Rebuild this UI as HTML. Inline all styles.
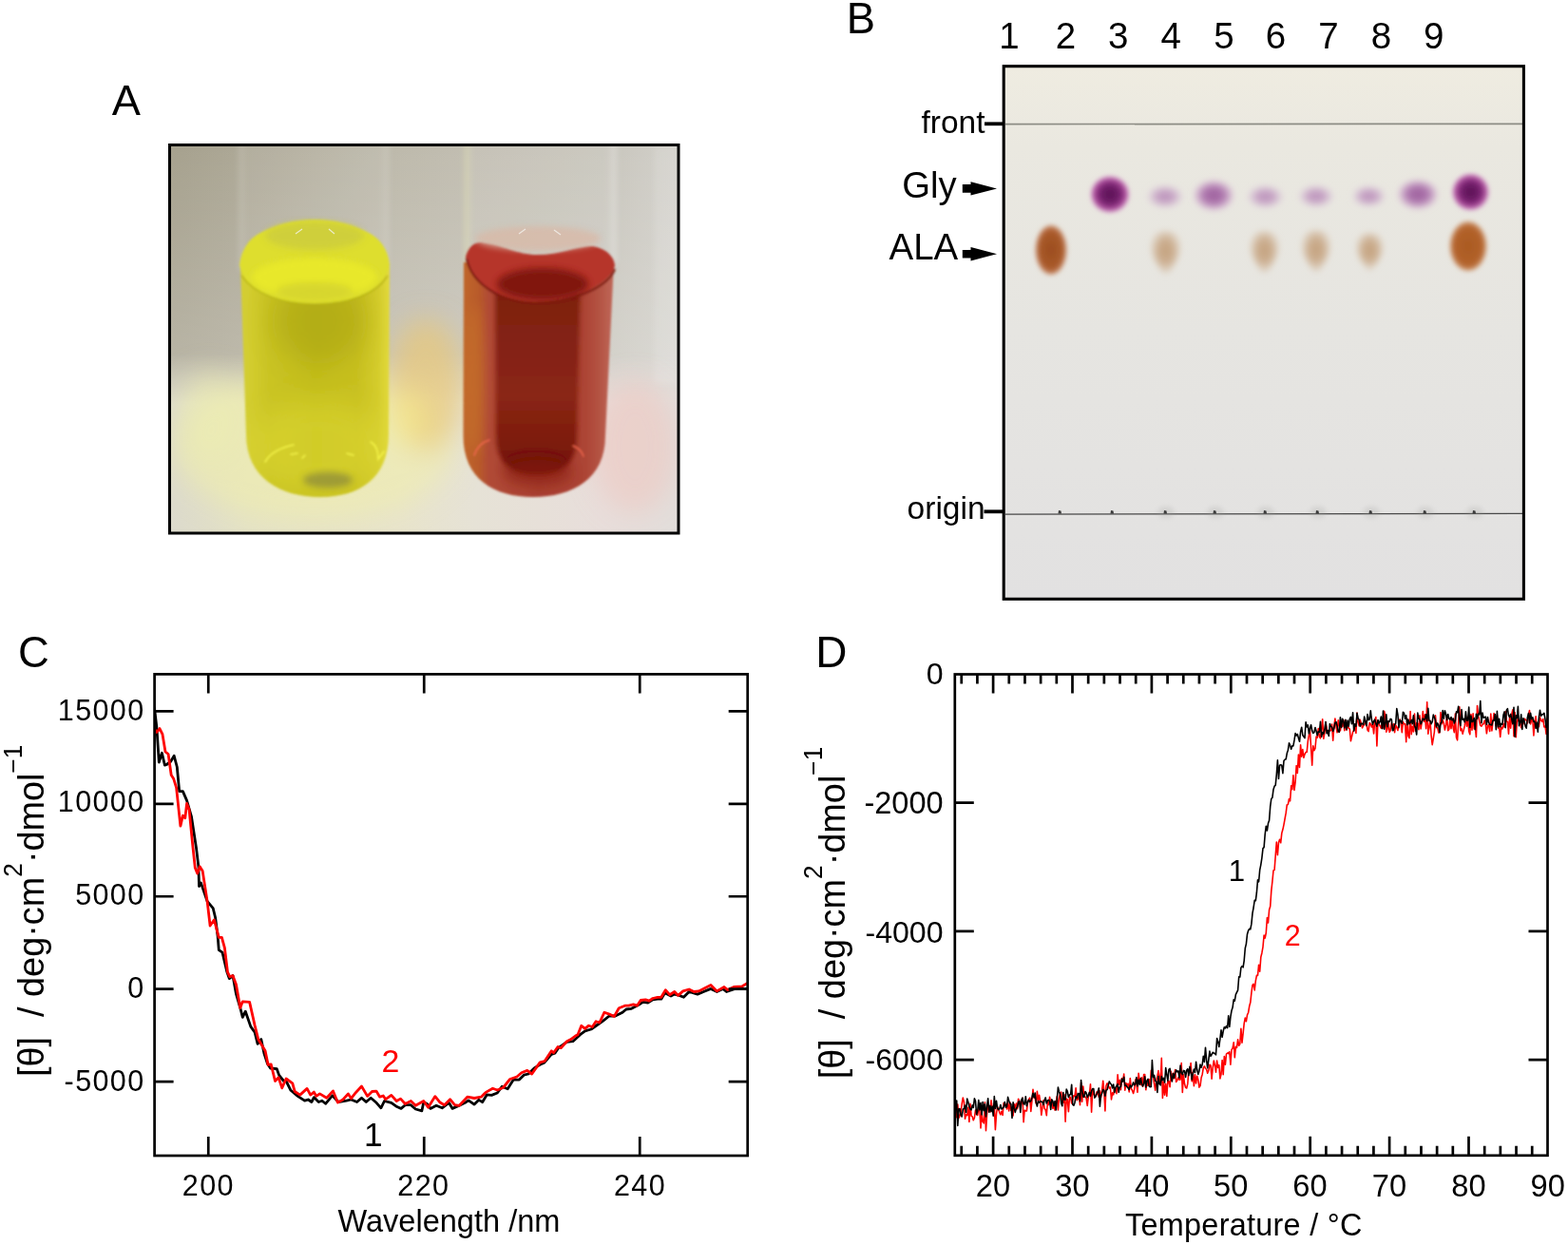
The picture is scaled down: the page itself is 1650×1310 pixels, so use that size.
<!DOCTYPE html>
<html><head><meta charset="utf-8"><title>Figure</title>
<style>html,body{margin:0;padding:0;background:#fff;} svg{display:block;} text{font-family:'Liberation Sans', Arial, Helvetica, sans-serif;}</style>
</head><body>
<svg width="1650" height="1310" viewBox="0 0 1650 1310">
<defs>
<clipPath id="clipA"><rect x="180" y="154" width="533" height="407"/></clipPath>
<linearGradient id="wallH" x1="180" y1="0" x2="713" y2="0" gradientUnits="userSpaceOnUse">
  <stop offset="0" stop-color="#a6a18e"/>
  <stop offset="0.12" stop-color="#aca795"/>
  <stop offset="0.45" stop-color="#bebaac"/>
  <stop offset="0.6" stop-color="#c2beb2"/>
  <stop offset="0.85" stop-color="#c8c5bc"/>
  <stop offset="1" stop-color="#d2d0ca"/>
</linearGradient>
<linearGradient id="wallV" x1="0" y1="154" x2="0" y2="400" gradientUnits="userSpaceOnUse">
  <stop offset="0" stop-color="#ffffff" stop-opacity="0"/>
  <stop offset="1" stop-color="#ffffff" stop-opacity="0.22"/>
</linearGradient>
<linearGradient id="tableH" x1="180" y1="0" x2="713" y2="0" gradientUnits="userSpaceOnUse">
  <stop offset="0" stop-color="#dcdacc"/>
  <stop offset="0.15" stop-color="#e4e2c6"/>
  <stop offset="0.45" stop-color="#e8e4cc"/>
  <stop offset="0.6" stop-color="#e6e2d6"/>
  <stop offset="0.85" stop-color="#e8dedb"/>
  <stop offset="1" stop-color="#e2dedb"/>
</linearGradient>
<linearGradient id="tableFade" x1="0" y1="372" x2="0" y2="425" gradientUnits="userSpaceOnUse">
  <stop offset="0" stop-color="#fff" stop-opacity="0"/>
  <stop offset="1" stop-color="#fff" stop-opacity="1"/>
</linearGradient>
<mask id="tableMask"><rect x="180" y="154" width="533" height="407" fill="url(#tableFade)"/></mask>
<linearGradient id="yBody" x1="252" y1="0" x2="410" y2="0" gradientUnits="userSpaceOnUse">
  <stop offset="0" stop-color="#d4ce36"/>
  <stop offset="0.08" stop-color="#d2cc2e"/>
  <stop offset="0.2" stop-color="#cac424"/>
  <stop offset="0.5" stop-color="#c4be1c"/>
  <stop offset="0.78" stop-color="#c8c020"/>
  <stop offset="0.92" stop-color="#d4cc2c"/>
  <stop offset="1" stop-color="#e2da3c"/>
</linearGradient>
<linearGradient id="rInner" x1="0" y1="290" x2="0" y2="500" gradientUnits="userSpaceOnUse">
  <stop offset="0" stop-color="#7c1e10"/>
  <stop offset="0.6" stop-color="#8a2614"/>
  <stop offset="1" stop-color="#741408"/>
</linearGradient>
<linearGradient id="rBody" x1="488" y1="0" x2="647" y2="0" gradientUnits="userSpaceOnUse">
  <stop offset="0" stop-color="#c0662c"/>
  <stop offset="0.1" stop-color="#b85a2a"/>
  <stop offset="0.17" stop-color="#b04a36"/>
  <stop offset="0.5" stop-color="#a84032"/>
  <stop offset="0.8" stop-color="#ac4434"/>
  <stop offset="0.9" stop-color="#b45444"/>
  <stop offset="1" stop-color="#c06a5c"/>
</linearGradient>
<filter id="blur1" x="-10%" y="-10%" width="120%" height="120%"><feGaussianBlur stdDeviation="1.1"/></filter>
<filter id="blur2b" x="-20%" y="-20%" width="140%" height="140%"><feGaussianBlur stdDeviation="2.2"/></filter>
<filter id="blur3" x="-30%" y="-30%" width="160%" height="160%"><feGaussianBlur stdDeviation="3"/></filter>
<filter id="blur6" x="-40%" y="-40%" width="180%" height="180%"><feGaussianBlur stdDeviation="6"/></filter>
<filter id="blur14" x="-60%" y="-60%" width="220%" height="220%"><feGaussianBlur stdDeviation="14"/></filter>
<clipPath id="clipYT"><path d="M253,279 L259,457 C259,503.2 295.75,523 337,523 C378.25,523 409,503.2 409,457 L410,279 Z"/></clipPath><clipPath id="clipRT"><path d="M488,276 L487.5,459 C487.5,503.8 519.8875,523 561,523 C602.1125,523 637,503.8 637,459 L646,276 Z"/></clipPath>
<linearGradient id="tlcBg" x1="0" y1="70" x2="0" y2="630" gradientUnits="userSpaceOnUse">
  <stop offset="0" stop-color="#efece1"/>
  <stop offset="0.15" stop-color="#eae8e0"/>
  <stop offset="0.5" stop-color="#e6e5e1"/>
  <stop offset="1" stop-color="#e2e1e1"/>
</linearGradient>
<radialGradient id="spotGlyD"><stop offset="0" stop-color="#5a1454"/><stop offset="0.5" stop-color="#741f6c"/><stop offset="0.8" stop-color="#a84898"/><stop offset="0.92" stop-color="#cc78bc"/><stop offset="1" stop-color="#dca0d0" stop-opacity="0"/></radialGradient>
<radialGradient id="spotGlyM"><stop offset="0" stop-color="#9c5e9c"/><stop offset="0.5" stop-color="#ac74ac" stop-opacity="0.95"/><stop offset="0.82" stop-color="#c89cc6" stop-opacity="0.6"/><stop offset="1" stop-color="#d8b0d4" stop-opacity="0"/></radialGradient>
<radialGradient id="spotGlyF"><stop offset="0" stop-color="#bc94bc"/><stop offset="0.45" stop-color="#c6a2c4" stop-opacity="0.95"/><stop offset="0.8" stop-color="#d6c0d4" stop-opacity="0.55"/><stop offset="1" stop-color="#e0d0dc" stop-opacity="0"/></radialGradient>
<radialGradient id="spotAlaD"><stop offset="0" stop-color="#9c4c1e"/><stop offset="0.7" stop-color="#a85a2a"/><stop offset="0.9" stop-color="#c07850"/><stop offset="1" stop-color="#d0a080" stop-opacity="0"/></radialGradient>
<radialGradient id="spotAlaD2"><stop offset="0" stop-color="#aa5a22"/><stop offset="0.7" stop-color="#b2622a"/><stop offset="0.9" stop-color="#c48050"/><stop offset="1" stop-color="#d8a880" stop-opacity="0"/></radialGradient>
<radialGradient id="spotAlaF" cx="0.5" cy="0.45" r="0.58"><stop offset="0" stop-color="#c4a27e"/><stop offset="0.45" stop-color="#cbad8e" stop-opacity="0.95"/><stop offset="0.8" stop-color="#d8c4ae" stop-opacity="0.55"/><stop offset="1" stop-color="#e2d6c6" stop-opacity="0"/></radialGradient>
<filter id="sblur" x="-50%" y="-50%" width="200%" height="200%"><feGaussianBlur stdDeviation="2.4"/></filter><filter id="sblur2" x="-60%" y="-60%" width="220%" height="220%"><feGaussianBlur stdDeviation="3.2"/></filter>
<clipPath id="clipC"><rect x="162" y="709" width="625" height="507"/></clipPath><clipPath id="clipD"><rect x="1004" y="709" width="625" height="507"/></clipPath></defs>
<rect width="1650" height="1310" fill="#fff"/>
<text x="117.81" y="120.70" font-size="45.21" fill="#000" >A</text>
<text x="890.78" y="34.90" font-size="45.38" fill="#000" >B</text>
<text x="18.99" y="702.00" font-size="45.39" fill="#000" >C</text>
<text x="858.23" y="701.80" font-size="45.94" fill="#000" >D</text>
<g clip-path="url(#clipA)">
<rect x="180" y="154" width="533" height="407" fill="url(#wallH)"/>
<rect x="180" y="154" width="533" height="407" fill="url(#wallV)"/>
<rect x="180" y="154" width="533" height="407" fill="url(#tableH)" mask="url(#tableMask)"/>
<g filter="url(#blur14)">
<ellipse cx="330" cy="470" rx="150" ry="80" fill="#f2f0a8" opacity="0.5"/>
<ellipse cx="448" cy="405" rx="40" ry="70" fill="#e8c878" opacity="0.7"/>
<ellipse cx="428" cy="440" rx="18" ry="28" fill="#f6ee90" opacity="0.6"/>
<ellipse cx="668" cy="470" rx="45" ry="70" fill="#f0c4bc" opacity="0.5"/>
<ellipse cx="220" cy="440" rx="35" ry="50" fill="#eeeeb0" opacity="0.45"/>
</g>
<rect x="688" y="154" width="26" height="250" fill="#ffffff" opacity="0.12" filter="url(#blur3)"/>
<g filter="url(#blur3)">
<rect x="252" y="150" width="158" height="135" fill="#ffffff" opacity="0.07"/>
<rect x="490" y="150" width="158" height="128" fill="#ffffff" opacity="0.07"/>
<rect x="251" y="150" width="5" height="135" fill="#ffffff" opacity="0.12"/>
<rect x="404" y="150" width="5" height="130" fill="#ffffff" opacity="0.10"/>
<rect x="489" y="150" width="5" height="128" fill="#ffffff" opacity="0.14"/>
<rect x="643" y="150" width="6" height="128" fill="#ffffff" opacity="0.22"/>
<rect x="489" y="150" width="5" height="128" fill="#e8e890" opacity="0.25"/>
</g>
<g filter="url(#blur1)"><path d="M253,279 L259,457 C259,503.2 295.75,523 337,523 C378.25,523 409,503.2 409,457 L410,279 Z" fill="url(#yBody)"/>
<g clip-path="url(#clipYT)">
<ellipse cx="336" cy="338" rx="50" ry="45" fill="#9c960c" opacity="0.40" filter="url(#blur14)"/>
<ellipse cx="335" cy="470" rx="70" ry="50" fill="#e6e23c" opacity="0.40" filter="url(#blur14)"/>
<ellipse cx="345" cy="505" rx="26" ry="8.5" fill="#8e8c3a" opacity="0.75" filter="url(#blur3)"/>
<g fill="none" stroke="#f6f64a" stroke-width="1.6" stroke-linecap="round" opacity="0.9"><path d="M309,468 C296,471 286,476 281,483 L279,486"/><path d="M390,465 C396,468 398,476 398,483 L404,475"/><path d="M306,478 l7,-1 M365,477 l7,2 M318,482 l3,-3"/></g>
</g>
<path d="M252,279 C254,262 262,252 272,246 C290,236 310,231 331,231 C352,231 372,236 390,246 C400,252 408,262 410,278 C404,306 372,320 331,320 C290,320 258,306 252,279 Z" fill="#dede2e"/>
<ellipse cx="331" cy="248" rx="52" ry="15" fill="#cdcd3c" opacity="0.85" filter="url(#blur3)"/>
<ellipse cx="331" cy="292" rx="66" ry="20" fill="#ecec2a" opacity="0.75" filter="url(#blur3)"/>
<ellipse cx="331" cy="306" rx="40" ry="9" fill="#c8c630" opacity="0.5" filter="url(#blur3)"/>
<path d="M254,290 C268,310 298,320 331,320 C366,320 396,310 408,290" fill="none" stroke="#b6b416" stroke-width="2" opacity="0.7"/>
</g>
<g filter="url(#blur1)"><path d="M488,276 L487.5,459 C487.5,503.8 519.8875,523 561,523 C602.1125,523 637,503.8 637,459 L646,276 Z" fill="url(#rBody)"/>
<g clip-path="url(#clipRT)">
<path d="M521,290 L522,462 C523,488 540,499 564,499 C590,499 606,488 607,462 L611,290 Z" fill="url(#rInner)" filter="url(#blur2b)"/>
<ellipse cx="564" cy="488" rx="34" ry="12" fill="#6a1006" opacity="0.45" filter="url(#blur6)"/>
<ellipse cx="566" cy="498" rx="36" ry="14" fill="#8a1a0e" opacity="0.5" filter="url(#blur6)"/>
<ellipse cx="500" cy="400" rx="10" ry="80" fill="#d08030" opacity="0.35" filter="url(#blur6)"/>
<g fill="none" stroke="#f46a50" stroke-width="1.5" stroke-linecap="round" opacity="0.9"><path d="M515,463 C508,465 502,470 499,479"/><path d="M603,469 C608,471 612,474 614,480"/></g>
</g>
<path d="M490,270 C493,260 499,255 506,255 C530,258 545,268 565,268 C590,268 610,258 624,259 C640,262 647,272 647,280 C640,300 600,318 562,318 C525,318 494,295 490,270 Z" fill="#b6342a"/>
<ellipse cx="571" cy="299" rx="48" ry="17" fill="#7c1410" opacity="0.9" filter="url(#blur3)"/>
<path d="M491,272 C496,298 526,318 563,319 C604,318 640,302 647,283" fill="none" stroke="#7e1c12" stroke-width="2.4" opacity="0.9"/>
</g>
<ellipse cx="566" cy="251" rx="66" ry="13" fill="#d9b8a6" opacity="0.75" filter="url(#blur3)"/>
<g stroke="#f4f4f0" stroke-width="1.3" fill="none" opacity="0.75">
<path d="M311,246 l7,-5 M346,241 l6,5"/><path d="M546,246 l7,-5 M583,242 l7,5"/>
</g>
</g>
<rect x="178.5" y="152.5" width="535.5" height="408.5" fill="none" stroke="#000" stroke-width="3"/>
<rect x="1056.2" y="69.7" width="547.2" height="560.6" fill="url(#tlcBg)"/>
<line x1="1058" y1="130.6" x2="1602" y2="130.3" stroke="#8c8c84" stroke-width="1.7"/>
<line x1="1058" y1="541" x2="1602" y2="540.4" stroke="#484848" stroke-width="1.25"/>
<path d="M1113.5,540.5 l0.5,-3.5 l2.5,0.5 l0.5,3 Z" fill="#3c3c3c"/>
<path d="M1168.5,540.5 l0.5,-3.5 l2.5,0.5 l0.5,3 Z" fill="#3c3c3c"/>
<ellipse cx="1227" cy="539" rx="9" ry="6" fill="#9a9a96" opacity="0.22" filter="url(#sblur)"/>
<path d="M1224.5,540.5 l0.5,-3.5 l2.5,0.5 l0.5,3 Z" fill="#3c3c3c"/>
<ellipse cx="1279" cy="539" rx="9" ry="6" fill="#9a9a96" opacity="0.22" filter="url(#sblur)"/>
<path d="M1276.5,540.5 l0.5,-3.5 l2.5,0.5 l0.5,3 Z" fill="#3c3c3c"/>
<ellipse cx="1332" cy="539" rx="9" ry="6" fill="#9a9a96" opacity="0.22" filter="url(#sblur)"/>
<path d="M1329.5,540.5 l0.5,-3.5 l2.5,0.5 l0.5,3 Z" fill="#3c3c3c"/>
<ellipse cx="1387" cy="539" rx="9" ry="6" fill="#9a9a96" opacity="0.22" filter="url(#sblur)"/>
<path d="M1384.5,540.5 l0.5,-3.5 l2.5,0.5 l0.5,3 Z" fill="#3c3c3c"/>
<ellipse cx="1443" cy="539" rx="9" ry="6" fill="#9a9a96" opacity="0.22" filter="url(#sblur)"/>
<path d="M1440.5,540.5 l0.5,-3.5 l2.5,0.5 l0.5,3 Z" fill="#3c3c3c"/>
<ellipse cx="1500" cy="539" rx="9" ry="6" fill="#9a9a96" opacity="0.22" filter="url(#sblur)"/>
<path d="M1497.5,540.5 l0.5,-3.5 l2.5,0.5 l0.5,3 Z" fill="#3c3c3c"/>
<ellipse cx="1552" cy="539" rx="9" ry="6" fill="#9a9a96" opacity="0.22" filter="url(#sblur)"/>
<path d="M1549.5,540.5 l0.5,-3.5 l2.5,0.5 l0.5,3 Z" fill="#3c3c3c"/>
<ellipse cx="1106" cy="263" rx="17" ry="27" fill="url(#spotAlaD)" filter="url(#sblur)"/>
<ellipse cx="1168" cy="204.5" rx="20.5" ry="19.5" fill="url(#spotGlyD)" filter="url(#sblur)"/>
<ellipse cx="1226" cy="206.8" rx="20" ry="13" fill="url(#spotGlyF)" filter="url(#sblur2)"/>
<ellipse cx="1277.2" cy="205.5" rx="22" ry="17" fill="url(#spotGlyM)" filter="url(#sblur2)"/>
<ellipse cx="1331.5" cy="207" rx="20" ry="13" fill="url(#spotGlyF)" filter="url(#sblur2)"/>
<ellipse cx="1385" cy="206.5" rx="19.5" ry="12.5" fill="url(#spotGlyF)" filter="url(#sblur2)"/>
<ellipse cx="1440.5" cy="206.5" rx="18.5" ry="12" fill="url(#spotGlyF)" filter="url(#sblur2)"/>
<ellipse cx="1492" cy="204.5" rx="22" ry="16.5" fill="url(#spotGlyM)" filter="url(#sblur2)"/>
<ellipse cx="1547.5" cy="202" rx="19.5" ry="19.5" fill="url(#spotGlyD)" filter="url(#sblur)"/>
<ellipse cx="1545" cy="259" rx="20" ry="27" fill="url(#spotAlaD2)" filter="url(#sblur)"/>
<path d="M1226.7,243 C1249.825,243 1246.125,272.14 1226.7,290 C1207.275,272.14 1203.575,243 1226.7,243 Z" fill="url(#spotAlaF)" filter="url(#sblur2)"/>
<path d="M1330.6,243 C1353.1,243 1349.5,271.52 1330.6,289 C1311.6999999999998,271.52 1308.1,243 1330.6,243 Z" fill="url(#spotAlaF)" filter="url(#sblur2)"/>
<path d="M1385,242 C1407.5,242 1403.9,270.52 1385,288 C1366.1,270.52 1362.5,242 1385,242 Z" fill="url(#spotAlaF)" filter="url(#sblur2)"/>
<path d="M1441.4,245 C1462.65,245 1459.25,270.42 1441.4,286 C1423.5500000000002,270.42 1420.15,245 1441.4,245 Z" fill="url(#spotAlaF)" filter="url(#sblur2)"/>
<rect x="1056.2" y="69.7" width="547.2" height="560.6" fill="none" stroke="#000" stroke-width="3.1"/>
<text x="1051.17" y="50.90" font-size="38.50" fill="#000" >1</text>
<text x="1110.79" y="50.90" font-size="38.50" fill="#000" >2</text>
<text x="1166.11" y="50.90" font-size="38.50" fill="#000" >3</text>
<text x="1221.42" y="50.90" font-size="38.50" fill="#000" >4</text>
<text x="1277.13" y="50.90" font-size="38.50" fill="#000" >5</text>
<text x="1331.86" y="50.90" font-size="38.50" fill="#000" >6</text>
<text x="1387.28" y="50.90" font-size="38.50" fill="#000" >7</text>
<text x="1442.79" y="50.90" font-size="38.50" fill="#000" >8</text>
<text x="1498.00" y="50.90" font-size="38.50" fill="#000" >9</text>
<text x="969.53" y="139.50" font-size="33.46" fill="#000" >front</text>
<line x1="1036" y1="130.3" x2="1055" y2="130.3" stroke="#000" stroke-width="3.8"/>
<text x="949.28" y="208.00" font-size="38.25" fill="#000" >Gly</text>
<text x="935.62" y="273.40" font-size="38.45" fill="#000" >ALA</text>
<text x="954.59" y="546.40" font-size="33.56" fill="#000" >origin</text>
<line x1="1035.5" y1="538.3" x2="1055" y2="538.3" stroke="#000" stroke-width="3.8"/>
<path d="M1012.8,194.1 L1021.5,194.1 L1021.5,191.20000000000002 L1049,198.4 L1021.5,205.6 L1021.5,202.70000000000002 L1012.8,202.70000000000002 Z" fill="#000"/>
<path d="M1012.8,262.9 L1021.5,262.9 L1021.5,260.0 L1049,267.2 L1021.5,274.4 L1021.5,271.5 L1012.8,271.5 Z" fill="#000"/>
<g clip-path="url(#clipC)" fill="none" stroke-linejoin="round" stroke-linecap="round"><polyline points="162.4,745.0 163.2,750.8 164.9,765.4 167.3,802.0 170.4,792.3 173.4,805.1 175.3,804.5 179.5,801.4 183.2,795.3 186.3,807.0 188.7,832.6 192.4,832.6 196.6,842.4 201.5,859.5 206.5,892.2 208.9,911.8 209.5,932.5 211.4,928.9 218.1,948.4 224.2,955.7 226.6,965.5 229.1,985.0 230.3,999.7 234.0,1002.1 238.9,1022.9 241.3,1029.6 245.0,1026.6 248.5,1045.9 252.8,1060.5 255.3,1070.3 258.3,1064.2 263.8,1080.1 268.1,1086.2 271.1,1098.4 274.8,1093.5 277.9,1108.2 281.5,1119.2 284.6,1124.0 291.3,1124.7 293.7,1131.4 298.6,1137.5 301.1,1137.5 306.0,1147.3 313.3,1153.4 320.6,1158.2 324.3,1157.0 327.9,1159.5 330.4,1154.6 335.3,1159.5 338.9,1158.2 342.6,1161.3 349.9,1152.7 356.0,1159.5 364.6,1158.2 369.5,1157.0 375.6,1159.5 380.5,1155.2 385.3,1159.5 390.2,1155.2 396.1,1160.3 400.9,1165.8 404.5,1158.5 411.8,1160.3 416.7,1163.9 422.1,1166.4 426.4,1162.7 432.4,1162.7 437.3,1167.0 443.9,1168.8 445.8,1159.7 449.4,1161.5 453.0,1166.4 459.1,1163.3 465.2,1165.8 472.4,1160.3 476.1,1166.4 483.3,1163.3 489.4,1160.3 493.0,1157.9 499.1,1162.1 503.9,1157.3 507.6,1159.7 512.4,1151.8 517.3,1152.4 523.3,1150.0 528.2,1143.3 534.2,1145.8 540.3,1136.1 546.4,1136.1 551.2,1131.2 556.1,1130.0 562.1,1123.9 568.2,1120.3 573.0,1117.9 580.3,1109.4 583.9,1108.2 587.6,1102.7 596.5,1096.4 602.9,1095.7 610.5,1088.7 615.6,1084.9 622.0,1083.0 628.4,1078.5 634.7,1074.1 641.1,1069.0 647.5,1069.0 655.1,1065.2 658.9,1062.0 664.0,1061.4 671.6,1057.5 676.7,1054.4 681.8,1055.0 686.9,1051.8 692.0,1051.2 695.8,1051.2 699.6,1044.8 706.0,1048.0 709.8,1046.1 714.9,1047.4 719.4,1049.3 725.1,1043.5 734.0,1046.1 740.4,1043.5 748.0,1040.4 754.4,1043.5 760.7,1040.4 764.5,1043.5 773.5,1040.4 786.5,1040.4" stroke="#000" stroke-width="2.8"/><polyline points="163.0,767.9 164.9,770.3 168.0,766.6 171.0,772.7 174.0,791.0 177.1,793.5 180.2,815.5 182.6,819.2 185.6,828.9 189.9,869.2 192.4,858.2 194.8,860.7 196.6,845.4 199.1,852.1 202.7,888.8 205.3,913.0 207.7,919.1 210.2,911.8 213.2,916.6 218.1,948.4 221.1,974.0 225.4,967.9 230.3,986.3 233.4,986.3 236.4,997.3 239.5,1022.9 241.9,1027.8 245.0,1026.6 248.5,1036.1 252.8,1060.5 255.3,1053.8 262.6,1054.4 268.1,1078.9 271.8,1093.5 279.1,1105.7 282.1,1120.4 285.2,1119.8 289.5,1137.5 293.1,1133.8 296.8,1144.8 301.1,1135.0 307.8,1139.9 310.2,1148.5 315.7,1152.1 323.1,1145.4 326.7,1152.1 330.4,1149.1 332.8,1153.4 336.5,1150.9 343.8,1155.2 350.5,1147.9 355.4,1160.1 360.9,1157.0 366.4,1150.9 369.5,1155.8 374.3,1149.7 380.5,1143.0 386.6,1153.4 391.5,1148.5 396.1,1148.2 399.7,1154.2 403.3,1153.0 405.8,1156.7 411.8,1152.4 417.3,1158.5 421.5,1156.1 426.4,1161.5 432.4,1158.5 437.3,1163.3 445.8,1158.5 450.6,1165.2 457.9,1153.6 462.7,1159.7 467.6,1162.7 473.6,1156.7 478.5,1162.7 483.3,1163.3 491.8,1154.2 499.1,1155.5 506.4,1154.2 511.2,1149.4 518.5,1145.2 523.3,1147.0 529.4,1144.5 536.7,1135.5 543.9,1133.0 548.8,1128.8 554.8,1126.4 559.7,1130.0 568.2,1117.9 573.0,1116.7 580.3,1105.8 582.5,1107.8 587.0,1101.5 590.2,1102.7 596.5,1095.7 600.4,1093.8 605.5,1090.0 608.0,1088.7 611.8,1079.2 615.6,1082.4 619.5,1079.2 623.3,1080.5 627.1,1074.7 630.9,1076.0 636.0,1065.2 641.1,1067.1 646.2,1069.6 651.3,1060.7 657.6,1058.2 661.5,1058.2 666.5,1056.9 670.4,1058.2 674.2,1052.5 679.3,1051.8 683.1,1053.1 686.9,1050.5 692.0,1049.3 695.8,1049.3 700.3,1041.6 704.7,1046.7 709.8,1043.5 713.6,1047.4 718.7,1042.9 725.1,1041.0 730.2,1043.5 735.3,1042.9 741.6,1039.7 748.0,1036.5 754.4,1042.9 762.0,1038.5 765.8,1041.6 772.2,1038.5 781.1,1037.8 786.2,1034.6" stroke="#ff0000" stroke-width="2.8"/></g>
<rect x="162.6" y="709.4" width="624.1" height="506.6" stroke="#000" stroke-width="2.7" fill="none"/>
<path d="M219.25,1216.0 v-20 M219.25,709.4 v20 M446.25,1216.0 v-20 M446.25,709.4 v20 M673.25,1216.0 v-20 M673.25,709.4 v20 M162.6,748.35 h20 M786.7,748.35 h-20 M162.6,845.80 h20 M786.7,845.80 h-20 M162.6,943.25 h20 M786.7,943.25 h-20 M162.6,1040.70 h20 M786.7,1040.70 h-20 M162.6,1138.15 h20 M786.7,1138.15 h-20" stroke="#000" stroke-width="2.7" fill="none"/>
<text x="60.78" y="757.60" font-size="30.50" fill="#000" letter-spacing="1.4" >15000</text>
<text x="60.78" y="854.40" font-size="30.50" fill="#000" letter-spacing="1.4" >10000</text>
<text x="79.14" y="952.00" font-size="30.50" fill="#000" letter-spacing="1.4" >5000</text>
<text x="134.23" y="1050.00" font-size="30.50" fill="#000" letter-spacing="1.4" >0</text>
<text x="67.58" y="1148.00" font-size="30.50" fill="#000" letter-spacing="1.4" >-5000</text>
<text x="191.78" y="1257.60" font-size="30.50" fill="#000" letter-spacing="1.4" >200</text>
<text x="418.33" y="1257.60" font-size="30.50" fill="#000" letter-spacing="1.4" >220</text>
<text x="645.98" y="1257.60" font-size="30.50" fill="#000" letter-spacing="1.4" >240</text>
<text x="355.46" y="1295.60" font-size="32.55" fill="#000" >Wavelength /nm</text>
<text x="401.59" y="1128.20" font-size="33.94" fill="#ff0000" >2</text>
<text x="383.02" y="1206.00" font-size="35.18" fill="#000" >1</text>
<g clip-path="url(#clipD)" fill="none" stroke-linejoin="round"><polyline points="1004.5,1172.1 1005.6,1168.1 1006.7,1175.7 1007.8,1162.1 1008.9,1176.3 1010.0,1174.1 1011.1,1170.3 1012.2,1161.5 1013.3,1155.1 1014.4,1159.2 1015.5,1177.3 1016.6,1172.9 1017.7,1173.6 1018.8,1165.2 1019.9,1180.5 1021.0,1161.4 1022.1,1174.3 1023.2,1174.9 1024.3,1178.8 1025.4,1176.1 1026.5,1168.1 1027.6,1169.3 1028.7,1173.5 1029.8,1166.3 1030.9,1168.0 1032.0,1186.9 1033.1,1172.1 1034.2,1180.3 1035.3,1181.8 1036.4,1159.9 1037.5,1189.8 1038.6,1171.8 1039.7,1163.3 1040.8,1166.3 1041.9,1170.0 1043.0,1157.9 1044.1,1165.8 1045.2,1170.0 1046.3,1162.9 1047.4,1188.6 1048.5,1172.1 1049.6,1164.7 1050.7,1167.0 1051.8,1170.6 1052.9,1172.8 1054.0,1169.3 1055.1,1173.4 1056.2,1160.5 1057.3,1162.1 1058.4,1162.1 1059.5,1166.9 1060.6,1160.3 1061.7,1169.0 1062.8,1159.9 1063.9,1168.4 1065.0,1166.5 1066.1,1173.9 1067.2,1161.7 1068.3,1166.3 1069.4,1161.0 1070.5,1166.7 1071.6,1156.2 1072.7,1158.4 1073.8,1165.8 1074.9,1158.9 1076.0,1155.2 1077.1,1180.7 1078.2,1168.2 1079.3,1169.0 1080.4,1168.9 1081.5,1159.6 1082.6,1156.7 1083.7,1155.2 1084.8,1169.4 1085.9,1158.6 1087.0,1146.3 1088.1,1154.7 1089.2,1155.8 1090.3,1161.0 1091.4,1148.3 1092.5,1158.1 1093.6,1152.3 1094.7,1159.0 1095.8,1173.3 1096.9,1165.8 1098.0,1157.7 1099.1,1166.2 1100.2,1167.8 1101.3,1173.7 1102.4,1159.3 1103.5,1162.4 1104.6,1154.4 1105.7,1160.5 1106.8,1159.1 1107.9,1166.5 1109.0,1163.2 1110.1,1168.1 1111.2,1160.7 1112.3,1153.6 1113.4,1168.0 1114.5,1156.0 1115.6,1150.2 1116.7,1149.1 1117.8,1159.2 1118.9,1160.2 1120.0,1151.7 1121.1,1180.1 1122.2,1156.0 1123.3,1157.1 1124.4,1169.8 1125.5,1154.4 1126.6,1154.5 1127.7,1160.9 1128.8,1156.6 1129.9,1152.7 1131.0,1153.7 1132.1,1144.9 1133.2,1157.8 1134.3,1156.3 1135.4,1151.9 1136.5,1162.6 1137.6,1139.5 1138.7,1159.3 1139.8,1143.0 1140.9,1154.2 1142.0,1154.0 1143.1,1155.4 1144.2,1163.4 1145.3,1154.1 1146.4,1151.6 1147.5,1140.7 1148.6,1170.2 1149.7,1146.7 1150.8,1151.7 1151.9,1152.4 1153.0,1153.4 1154.1,1149.0 1155.2,1148.8 1156.3,1154.3 1157.4,1147.9 1158.5,1154.9 1159.6,1148.0 1160.7,1137.2 1161.8,1147.2 1162.9,1168.9 1164.0,1142.4 1165.1,1139.8 1166.2,1141.8 1167.3,1145.1 1168.4,1144.0 1169.5,1157.0 1170.6,1149.9 1171.7,1151.8 1172.8,1145.0 1173.9,1145.9 1175.0,1150.6 1176.1,1130.7 1177.2,1141.1 1178.3,1136.5 1179.4,1146.7 1180.5,1134.6 1181.6,1137.7 1182.7,1130.0 1183.8,1147.2 1184.9,1139.5 1186.0,1142.2 1187.1,1140.2 1188.2,1149.0 1189.3,1134.6 1190.4,1145.5 1191.5,1147.4 1192.6,1150.5 1193.7,1146.0 1194.8,1136.0 1195.9,1140.8 1197.0,1149.3 1198.1,1129.3 1199.2,1136.6 1200.3,1141.4 1201.4,1133.8 1202.5,1143.3 1203.6,1130.5 1204.7,1130.5 1205.8,1146.8 1206.9,1139.3 1208.0,1142.1 1209.1,1135.9 1210.2,1143.1 1211.3,1126.4 1212.4,1130.8 1213.5,1132.8 1214.6,1140.3 1215.7,1147.2 1216.8,1136.6 1217.9,1132.4 1219.0,1126.5 1220.1,1133.7 1221.2,1140.6 1222.3,1113.4 1223.4,1155.5 1224.5,1138.2 1225.6,1152.2 1226.7,1140.3 1227.8,1153.4 1228.9,1137.1 1230.0,1137.9 1231.1,1143.7 1232.2,1127.4 1233.3,1137.2 1234.4,1129.3 1235.5,1134.6 1236.6,1125.5 1237.7,1138.4 1238.8,1136.7 1239.9,1133.9 1241.0,1136.2 1242.1,1136.0 1243.2,1118.5 1244.3,1149.4 1245.4,1130.9 1246.5,1140.3 1247.6,1144.4 1248.7,1145.0 1249.8,1140.4 1250.9,1125.8 1252.0,1128.8 1253.1,1118.5 1254.2,1137.8 1255.3,1128.6 1256.4,1142.6 1257.5,1130.7 1258.6,1139.9 1259.7,1132.2 1260.8,1135.9 1261.9,1144.1 1263.0,1142.6 1264.1,1134.0 1265.2,1130.4 1266.3,1123.5 1267.4,1121.9 1268.5,1124.2 1269.6,1125.3 1270.7,1129.2 1271.8,1126.4 1272.9,1120.2 1274.0,1121.2 1275.1,1135.1 1276.2,1123.6 1277.3,1116.0 1278.4,1121.0 1279.5,1128.1 1280.6,1116.1 1281.7,1123.5 1282.8,1120.7 1283.9,1134.9 1285.0,1130.2 1286.1,1115.6 1287.2,1130.7 1288.3,1111.6 1289.4,1120.1 1290.5,1109.0 1291.6,1108.0 1292.7,1108.6 1293.8,1106.6 1294.9,1120.1 1296.0,1104.7 1297.1,1102.8 1298.2,1096.9 1299.3,1112.8 1300.4,1101.3 1301.5,1102.3 1302.6,1093.8 1303.7,1100.2 1304.8,1098.5 1305.9,1082.4 1307.0,1097.2 1308.1,1087.4 1309.2,1076.9 1310.3,1071.0 1311.4,1074.7 1312.5,1067.9 1313.6,1065.5 1314.7,1058.8 1315.8,1054.8 1316.9,1044.5 1318.0,1036.5 1319.1,1035.3 1320.2,1041.9 1321.3,1032.1 1322.4,1026.4 1323.5,1026.5 1324.6,1015.2 1325.7,1022.1 1326.8,1007.1 1327.9,1002.7 1329.0,996.3 1330.1,984.1 1331.2,987.1 1332.3,981.5 1333.4,965.5 1334.5,971.0 1335.6,957.3 1336.7,953.8 1337.8,937.4 1338.9,927.5 1340.0,916.0 1341.1,915.4 1342.2,900.5 1343.3,886.1 1344.4,899.8 1345.5,886.6 1346.6,883.3 1347.7,886.8 1348.8,876.6 1349.9,872.8 1351.0,867.6 1352.1,861.5 1353.2,855.4 1354.3,846.8 1355.4,846.4 1356.5,840.5 1357.6,842.8 1358.7,826.7 1359.8,830.6 1360.9,815.7 1362.0,831.5 1363.1,822.8 1364.2,805.6 1365.3,813.4 1366.4,794.0 1367.5,807.4 1368.6,783.7 1369.7,796.2 1370.8,788.6 1371.9,797.3 1373.0,793.5 1374.1,791.6 1375.2,791.3 1376.3,780.0 1377.4,773.6 1378.5,767.7 1379.6,787.1 1380.7,805.1 1381.8,784.7 1382.9,789.7 1384.0,787.3 1385.1,775.0 1386.2,776.1 1387.3,766.6 1388.4,775.1 1389.5,776.9 1390.6,767.1 1391.7,756.7 1392.8,777.3 1393.9,771.3 1395.0,759.8 1396.1,766.5 1397.2,771.9 1398.3,769.1 1399.4,769.1 1400.5,768.6 1401.6,762.1 1402.7,779.1 1403.8,764.2 1404.9,756.0 1406.0,764.4 1407.1,770.8 1408.2,757.8 1409.3,763.3 1410.4,768.8 1411.5,761.0 1412.6,764.5 1413.7,757.5 1414.8,768.7 1415.9,757.7 1417.0,768.2 1418.1,762.9 1419.2,766.2 1420.3,767.1 1421.4,779.7 1422.5,775.0 1423.6,770.1 1424.7,768.4 1425.8,762.8 1426.9,771.5 1428.0,750.1 1429.1,759.6 1430.2,763.8 1431.3,757.4 1432.4,761.0 1433.5,765.9 1434.6,763.8 1435.7,762.7 1436.8,759.4 1437.9,758.9 1439.0,768.1 1440.1,769.6 1441.2,760.6 1442.3,761.6 1443.4,765.1 1444.5,762.0 1445.6,772.0 1446.7,758.6 1447.8,754.5 1448.9,784.9 1450.0,758.3 1451.1,761.9 1452.2,763.8 1453.3,766.2 1454.4,759.0 1455.5,766.0 1456.6,748.3 1457.7,752.9 1458.8,770.3 1459.9,767.4 1461.0,759.0 1462.1,770.3 1463.2,768.5 1464.3,760.6 1465.4,766.7 1466.5,761.9 1467.6,770.7 1468.7,762.9 1469.8,765.4 1470.9,768.5 1472.0,761.9 1473.1,756.9 1474.2,760.1 1475.3,770.7 1476.4,759.6 1477.5,761.8 1478.6,761.9 1479.7,780.7 1480.8,756.4 1481.9,774.5 1483.0,776.6 1484.1,748.6 1485.2,772.6 1486.3,764.4 1487.4,769.9 1488.5,751.0 1489.6,769.2 1490.7,760.8 1491.8,761.2 1492.9,767.6 1494.0,752.8 1495.1,766.9 1496.2,759.8 1497.3,748.6 1498.4,759.1 1499.5,751.9 1500.6,766.6 1501.7,738.9 1502.8,772.1 1503.9,765.4 1505.0,758.3 1506.1,774.2 1507.2,783.6 1508.3,777.0 1509.4,770.0 1510.5,752.8 1511.6,765.6 1512.7,765.7 1513.8,770.9 1514.9,770.9 1516.0,749.6 1517.1,761.8 1518.2,757.8 1519.3,761.1 1520.4,768.0 1521.5,762.9 1522.6,753.4 1523.7,768.8 1524.8,767.4 1525.9,756.7 1527.0,766.7 1528.1,756.5 1529.2,765.7 1530.3,770.6 1531.4,751.0 1532.5,776.0 1533.6,778.8 1534.7,760.5 1535.8,743.7 1536.9,768.8 1538.0,766.8 1539.1,772.2 1540.2,768.3 1541.3,763.7 1542.4,752.9 1543.5,764.2 1544.6,754.5 1545.7,769.4 1546.8,772.8 1547.9,751.6 1549.0,768.2 1550.1,750.9 1551.2,766.9 1552.3,764.3 1553.4,775.5 1554.5,742.5 1555.6,753.3 1556.7,758.3 1557.8,763.2 1558.9,764.2 1560.0,762.3 1561.1,761.7 1562.2,758.1 1563.3,762.1 1564.4,771.8 1565.5,763.7 1566.6,762.7 1567.7,769.5 1568.8,751.0 1569.9,769.0 1571.0,759.0 1572.1,750.5 1573.2,753.0 1574.3,763.9 1575.4,752.5 1576.5,766.1 1577.6,764.6 1578.7,775.5 1579.8,765.3 1580.9,766.9 1582.0,761.9 1583.1,765.1 1584.2,748.9 1585.3,759.3 1586.4,759.3 1587.5,772.1 1588.6,753.3 1589.7,766.3 1590.8,751.1 1591.9,746.7 1593.0,774.7 1594.1,749.6 1595.2,775.7 1596.3,759.2 1597.4,756.1 1598.5,759.5 1599.6,758.9 1600.7,765.6 1601.8,763.4 1602.9,761.6 1604.0,756.2 1605.1,757.0 1606.2,758.0 1607.3,760.8 1608.4,752.2 1609.5,747.5 1610.6,761.9 1611.7,757.5 1612.8,756.9 1613.9,774.0 1615.0,759.5 1616.1,753.7 1617.2,766.8 1618.3,763.1 1619.4,764.6 1620.5,754.6 1621.6,757.7 1622.7,759.2 1623.8,756.6 1624.9,764.9 1626.0,764.0 1627.1,772.5 1628.2,755.7 1629.3,772.7" stroke="#ff0000" stroke-width="1.6"/><polyline points="1004.5,1188.7 1005.6,1165.7 1006.7,1158.1 1007.8,1184.4 1008.9,1166.8 1010.0,1166.6 1011.1,1173.2 1012.2,1175.0 1013.3,1167.2 1014.4,1166.5 1015.5,1163.1 1016.6,1170.5 1017.7,1156.0 1018.8,1159.5 1019.9,1164.4 1021.0,1167.0 1022.1,1167.8 1023.2,1162.8 1024.3,1165.5 1025.4,1155.9 1026.5,1158.5 1027.6,1172.7 1028.7,1169.1 1029.8,1157.6 1030.9,1167.9 1032.0,1160.4 1033.1,1172.9 1034.2,1159.5 1035.3,1168.6 1036.4,1161.7 1037.5,1175.0 1038.6,1163.7 1039.7,1155.7 1040.8,1170.2 1041.9,1163.4 1043.0,1169.6 1044.1,1164.1 1045.2,1174.1 1046.3,1153.5 1047.4,1166.4 1048.5,1158.3 1049.6,1166.2 1050.7,1167.6 1051.8,1166.6 1052.9,1162.5 1054.0,1167.0 1055.1,1166.2 1056.2,1164.8 1057.3,1159.5 1058.4,1165.2 1059.5,1164.5 1060.6,1154.4 1061.7,1158.3 1062.8,1161.1 1063.9,1161.7 1065.0,1176.4 1066.1,1159.8 1067.2,1166.4 1068.3,1170.4 1069.4,1166.2 1070.5,1165.0 1071.6,1159.7 1072.7,1158.7 1073.8,1170.5 1074.9,1157.1 1076.0,1155.2 1077.1,1161.6 1078.2,1162.0 1079.3,1153.7 1080.4,1163.7 1081.5,1159.9 1082.6,1157.3 1083.7,1159.4 1084.8,1158.4 1085.9,1155.0 1087.0,1150.3 1088.1,1154.9 1089.2,1150.1 1090.3,1160.0 1091.4,1164.0 1092.5,1158.6 1093.6,1160.2 1094.7,1158.6 1095.8,1159.3 1096.9,1159.4 1098.0,1162.5 1099.1,1157.7 1100.2,1154.9 1101.3,1161.0 1102.4,1158.0 1103.5,1157.4 1104.6,1158.9 1105.7,1167.4 1106.8,1156.9 1107.9,1158.7 1109.0,1163.8 1110.1,1158.5 1111.2,1168.0 1112.3,1156.4 1113.4,1144.0 1114.5,1148.7 1115.6,1151.5 1116.7,1161.0 1117.8,1163.7 1118.9,1149.5 1120.0,1157.0 1121.1,1157.2 1122.2,1146.1 1123.3,1148.3 1124.4,1154.5 1125.5,1151.9 1126.6,1151.6 1127.7,1141.2 1128.8,1162.2 1129.9,1163.2 1131.0,1160.2 1132.1,1153.5 1133.2,1155.5 1134.3,1150.5 1135.4,1150.5 1136.5,1158.7 1137.6,1136.5 1138.7,1147.6 1139.8,1154.0 1140.9,1154.2 1142.0,1148.5 1143.1,1149.9 1144.2,1154.8 1145.3,1152.3 1146.4,1149.3 1147.5,1153.3 1148.6,1147.8 1149.7,1145.5 1150.8,1145.5 1151.9,1155.1 1153.0,1153.8 1154.1,1151.3 1155.2,1148.7 1156.3,1144.9 1157.4,1164.2 1158.5,1152.6 1159.6,1150.5 1160.7,1146.4 1161.8,1147.3 1162.9,1153.1 1164.0,1147.2 1165.1,1146.6 1166.2,1142.1 1167.3,1137.9 1168.4,1140.0 1169.5,1141.0 1170.6,1144.9 1171.7,1141.0 1172.8,1149.5 1173.9,1144.3 1175.0,1142.7 1176.1,1140.6 1177.2,1149.3 1178.3,1143.8 1179.4,1143.4 1180.5,1135.2 1181.6,1137.9 1182.7,1133.4 1183.8,1142.5 1184.9,1141.9 1186.0,1143.6 1187.1,1144.8 1188.2,1146.5 1189.3,1141.9 1190.4,1143.8 1191.5,1142.1 1192.6,1138.9 1193.7,1141.7 1194.8,1140.8 1195.9,1133.6 1197.0,1142.9 1198.1,1136.1 1199.2,1141.2 1200.3,1134.5 1201.4,1140.5 1202.5,1142.8 1203.6,1140.4 1204.7,1132.9 1205.8,1144.0 1206.9,1137.1 1208.0,1135.3 1209.1,1142.7 1210.2,1143.8 1211.3,1143.4 1212.4,1115.6 1213.5,1133.4 1214.6,1131.4 1215.7,1137.4 1216.8,1137.7 1217.9,1149.5 1219.0,1132.5 1220.1,1140.4 1221.2,1141.8 1222.3,1132.6 1223.4,1136.5 1224.5,1134.4 1225.6,1139.0 1226.7,1123.6 1227.8,1130.7 1228.9,1137.1 1230.0,1125.3 1231.1,1124.3 1232.2,1132.4 1233.3,1137.9 1234.4,1129.5 1235.5,1134.3 1236.6,1129.1 1237.7,1125.9 1238.8,1127.9 1239.9,1126.9 1241.0,1134.1 1242.1,1121.0 1243.2,1128.9 1244.3,1130.7 1245.4,1126.4 1246.5,1126.7 1247.6,1133.4 1248.7,1126.3 1249.8,1124.7 1250.9,1131.6 1252.0,1122.3 1253.1,1127.9 1254.2,1136.0 1255.3,1129.4 1256.4,1125.0 1257.5,1128.5 1258.6,1117.4 1259.7,1125.5 1260.8,1130.4 1261.9,1127.2 1263.0,1120.0 1264.1,1123.2 1265.2,1120.0 1266.3,1111.4 1267.4,1117.4 1268.5,1102.2 1269.6,1115.3 1270.7,1123.8 1271.8,1115.3 1272.9,1106.1 1274.0,1111.4 1275.1,1109.5 1276.2,1107.3 1277.3,1108.1 1278.4,1108.6 1279.5,1109.8 1280.6,1092.6 1281.7,1095.9 1282.8,1101.5 1283.9,1093.0 1285.0,1083.8 1286.1,1091.3 1287.2,1085.0 1288.3,1080.8 1289.4,1081.9 1290.5,1079.5 1291.6,1081.6 1292.7,1068.9 1293.8,1080.3 1294.9,1069.9 1296.0,1063.5 1297.1,1060.1 1298.2,1051.8 1299.3,1053.2 1300.4,1046.4 1301.5,1044.1 1302.6,1041.9 1303.7,1027.7 1304.8,1028.0 1305.9,1018.1 1307.0,1016.6 1308.1,1017.8 1309.2,1010.8 1310.3,997.7 1311.4,993.1 1312.5,982.9 1313.6,979.2 1314.7,977.3 1315.8,977.9 1316.9,972.2 1318.0,960.9 1319.1,955.0 1320.2,947.4 1321.3,947.8 1322.4,939.2 1323.5,925.9 1324.6,927.8 1325.7,915.3 1326.8,909.8 1327.9,902.6 1329.0,892.6 1330.1,891.6 1331.2,877.9 1332.3,869.2 1333.4,874.0 1334.5,866.3 1335.6,863.2 1336.7,848.7 1337.8,840.5 1338.9,839.3 1340.0,830.7 1341.1,827.2 1342.2,826.3 1343.3,815.0 1344.4,799.8 1345.5,819.5 1346.6,805.2 1347.7,804.8 1348.8,805.3 1349.9,813.6 1351.0,800.5 1352.1,799.2 1353.2,798.8 1354.3,792.6 1355.4,789.2 1356.5,781.8 1357.6,784.4 1358.7,788.2 1359.8,784.7 1360.9,784.9 1362.0,778.9 1363.1,771.5 1364.2,773.9 1365.3,772.5 1366.4,776.6 1367.5,780.3 1368.6,769.9 1369.7,765.2 1370.8,773.5 1371.9,775.0 1373.0,776.6 1374.1,759.7 1375.2,764.9 1376.3,762.9 1377.4,771.9 1378.5,766.5 1379.6,762.7 1380.7,768.8 1381.8,771.5 1382.9,770.6 1384.0,765.5 1385.1,769.2 1386.2,773.7 1387.3,769.7 1388.4,770.4 1389.5,759.2 1390.6,775.3 1391.7,770.5 1392.8,772.1 1393.9,767.5 1395.0,759.6 1396.1,771.7 1397.2,768.5 1398.3,774.4 1399.4,761.5 1400.5,764.5 1401.6,764.9 1402.7,769.4 1403.8,766.5 1404.9,760.5 1406.0,759.6 1407.1,763.9 1408.2,769.8 1409.3,770.4 1410.4,754.7 1411.5,765.4 1412.6,756.2 1413.7,758.5 1414.8,766.0 1415.9,757.3 1417.0,767.7 1418.1,758.1 1419.2,764.2 1420.3,756.7 1421.4,754.4 1422.5,761.6 1423.6,749.9 1424.7,769.1 1425.8,761.9 1426.9,764.2 1428.0,750.4 1429.1,755.9 1430.2,757.2 1431.3,764.1 1432.4,761.3 1433.5,761.4 1434.6,762.4 1435.7,754.1 1436.8,759.7 1437.9,763.6 1439.0,751.6 1440.1,757.6 1441.2,756.9 1442.3,747.8 1443.4,757.1 1444.5,762.2 1445.6,758.9 1446.7,757.2 1447.8,760.9 1448.9,764.2 1450.0,757.6 1451.1,761.1 1452.2,759.3 1453.3,754.0 1454.4,766.6 1455.5,748.0 1456.6,767.3 1457.7,761.7 1458.8,751.8 1459.9,764.8 1461.0,758.7 1462.1,759.2 1463.2,756.4 1464.3,756.9 1465.4,768.7 1466.5,768.2 1467.6,762.2 1468.7,761.3 1469.8,745.6 1470.9,751.8 1472.0,765.6 1473.1,757.7 1474.2,759.0 1475.3,761.2 1476.4,749.3 1477.5,750.4 1478.6,756.3 1479.7,752.8 1480.8,762.6 1481.9,757.0 1483.0,761.7 1484.1,760.2 1485.2,757.5 1486.3,761.7 1487.4,752.8 1488.5,763.2 1489.6,766.1 1490.7,773.0 1491.8,750.1 1492.9,756.1 1494.0,757.0 1495.1,761.8 1496.2,759.7 1497.3,755.9 1498.4,757.6 1499.5,756.4 1500.6,751.8 1501.7,758.7 1502.8,745.3 1503.9,758.3 1505.0,758.6 1506.1,761.7 1507.2,759.4 1508.3,752.1 1509.4,754.8 1510.5,758.1 1511.6,764.8 1512.7,760.9 1513.8,763.1 1514.9,770.5 1516.0,760.9 1517.1,760.2 1518.2,747.5 1519.3,756.1 1520.4,747.7 1521.5,751.2 1522.6,757.4 1523.7,751.5 1524.8,756.0 1525.9,757.1 1527.0,754.6 1528.1,757.9 1529.2,756.0 1530.3,761.0 1531.4,758.3 1532.5,748.8 1533.6,749.7 1534.7,743.2 1535.8,758.0 1536.9,763.5 1538.0,746.6 1539.1,757.5 1540.2,756.3 1541.3,759.8 1542.4,748.8 1543.5,758.1 1544.6,758.2 1545.7,744.0 1546.8,765.4 1547.9,753.1 1549.0,759.6 1550.1,758.8 1551.2,755.6 1552.3,767.6 1553.4,751.3 1554.5,756.1 1555.6,751.0 1556.7,751.9 1557.8,737.6 1558.9,760.8 1560.0,750.0 1561.1,755.1 1562.2,754.9 1563.3,754.2 1564.4,762.4 1565.5,754.6 1566.6,760.2 1567.7,762.5 1568.8,762.5 1569.9,762.9 1571.0,758.0 1572.1,758.2 1573.2,751.5 1574.3,767.6 1575.4,748.3 1576.5,765.0 1577.6,756.3 1578.7,764.8 1579.8,761.4 1580.9,762.2 1582.0,752.3 1583.1,748.9 1584.2,765.8 1585.3,747.2 1586.4,745.7 1587.5,752.7 1588.6,754.6 1589.7,751.4 1590.8,756.8 1591.9,761.7 1593.0,744.3 1594.1,775.3 1595.2,752.8 1596.3,755.8 1597.4,743.4 1598.5,763.7 1599.6,760.5 1600.7,751.9 1601.8,767.5 1602.9,755.7 1604.0,758.4 1605.1,764.2 1606.2,766.2 1607.3,755.2 1608.4,750.6 1609.5,760.7 1610.6,750.4 1611.7,756.7 1612.8,754.8 1613.9,759.4 1615.0,759.0 1616.1,766.3 1617.2,760.0 1618.3,770.2 1619.4,754.6 1620.5,747.2 1621.6,753.3 1622.7,751.6 1623.8,751.7 1624.9,750.3 1626.0,756.9 1627.1,765.3 1628.2,763.5 1629.3,759.7" stroke="#000" stroke-width="1.6"/></g>
<rect x="1004.8" y="709.5" width="623.7" height="506.29999999999995" stroke="#000" stroke-width="2.7" fill="none"/>
<path d="M1011.74,1215.8 v-10 M1011.74,709.5 v10 M1028.42,1215.8 v-10 M1028.42,709.5 v10 M1045.10,1215.8 v-20 M1045.10,709.5 v20 M1061.78,1215.8 v-10 M1061.78,709.5 v10 M1078.46,1215.8 v-10 M1078.46,709.5 v10 M1095.14,1215.8 v-10 M1095.14,709.5 v10 M1111.82,1215.8 v-10 M1111.82,709.5 v10 M1128.50,1215.8 v-20 M1128.50,709.5 v20 M1145.18,1215.8 v-10 M1145.18,709.5 v10 M1161.86,1215.8 v-10 M1161.86,709.5 v10 M1178.54,1215.8 v-10 M1178.54,709.5 v10 M1195.22,1215.8 v-10 M1195.22,709.5 v10 M1211.90,1215.8 v-20 M1211.90,709.5 v20 M1228.58,1215.8 v-10 M1228.58,709.5 v10 M1245.26,1215.8 v-10 M1245.26,709.5 v10 M1261.94,1215.8 v-10 M1261.94,709.5 v10 M1278.62,1215.8 v-10 M1278.62,709.5 v10 M1295.30,1215.8 v-20 M1295.30,709.5 v20 M1311.98,1215.8 v-10 M1311.98,709.5 v10 M1328.66,1215.8 v-10 M1328.66,709.5 v10 M1345.34,1215.8 v-10 M1345.34,709.5 v10 M1362.02,1215.8 v-10 M1362.02,709.5 v10 M1378.70,1215.8 v-20 M1378.70,709.5 v20 M1395.38,1215.8 v-10 M1395.38,709.5 v10 M1412.06,1215.8 v-10 M1412.06,709.5 v10 M1428.74,1215.8 v-10 M1428.74,709.5 v10 M1445.42,1215.8 v-10 M1445.42,709.5 v10 M1462.10,1215.8 v-20 M1462.10,709.5 v20 M1478.78,1215.8 v-10 M1478.78,709.5 v10 M1495.46,1215.8 v-10 M1495.46,709.5 v10 M1512.14,1215.8 v-10 M1512.14,709.5 v10 M1528.82,1215.8 v-10 M1528.82,709.5 v10 M1545.50,1215.8 v-20 M1545.50,709.5 v20 M1562.18,1215.8 v-10 M1562.18,709.5 v10 M1578.86,1215.8 v-10 M1578.86,709.5 v10 M1595.54,1215.8 v-10 M1595.54,709.5 v10 M1612.22,1215.8 v-10 M1612.22,709.5 v10 M1004.8,844.70 h20 M1628.5,844.70 h-20 M1004.8,979.90 h20 M1628.5,979.90 h-20 M1004.8,1115.10 h20 M1628.5,1115.10 h-20" stroke="#000" stroke-width="2.7" fill="none"/>
<text x="974.71" y="720.00" font-size="32.08" fill="#000" >0</text>
<text x="909.42" y="856.30" font-size="32.51" fill="#000" >-2000</text>
<text x="910.50" y="991.60" font-size="32.08" fill="#000" >-4000</text>
<text x="910.50" y="1126.40" font-size="32.08" fill="#000" >-6000</text>
<text x="1026.76" y="1258.80" font-size="32.65" fill="#000" >20</text>
<text x="1110.36" y="1258.80" font-size="32.65" fill="#000" >30</text>
<text x="1194.00" y="1258.80" font-size="32.65" fill="#000" >40</text>
<text x="1277.12" y="1258.80" font-size="32.65" fill="#000" >50</text>
<text x="1360.35" y="1258.80" font-size="32.65" fill="#000" >60</text>
<text x="1443.74" y="1258.80" font-size="32.65" fill="#000" >70</text>
<text x="1527.27" y="1258.80" font-size="32.65" fill="#000" >80</text>
<text x="1610.61" y="1258.80" font-size="32.65" fill="#000" >90</text>
<text x="1184.07" y="1299.60" font-size="32.40" fill="#000" letter-spacing="0.27" >Temperature / °C</text>
<text x="1292.82" y="926.50" font-size="31.25" fill="#000" >1</text>
<text x="1351.67" y="995.30" font-size="30.51" fill="#ff0000" >2</text>
<text transform="translate(46.00,1133.10) rotate(-90) scale(0.971,1)" font-size="39" xml:space="preserve" style="white-space:pre">[θ]  / deg·cm<tspan font-size="27" dy="-23.5">2</tspan><tspan dy="23.5">·dmol</tspan><tspan font-size="27" dy="-23.5">−1</tspan></text>
<text transform="translate(888.50,1135.30) rotate(-90) scale(0.971,1)" font-size="39" xml:space="preserve" style="white-space:pre">[θ]  / deg·cm<tspan font-size="27" dy="-23.5">2</tspan><tspan dy="23.5">·dmol</tspan><tspan font-size="27" dy="-23.5">−1</tspan></text>
</svg>
</body></html>
